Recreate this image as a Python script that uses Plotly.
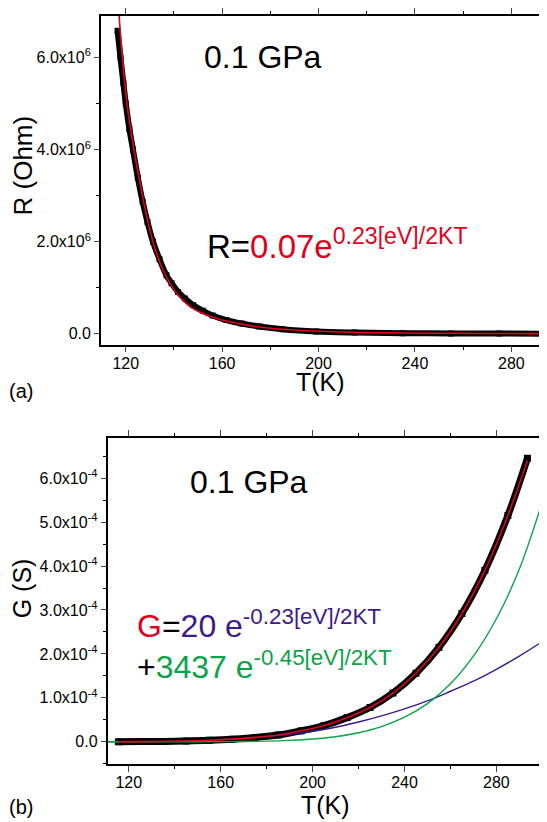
import plotly.graph_objects as go

# ---------------- data ----------------
# Panel (a): resistance, R in units of 1e6 Ohm
T_R = [116.6, 117.8, 119.0, 120.0, 121.5, 123.0, 125.0, 127.0, 129.0, 131.3, 134.0,
       136.9, 139.0, 141.7, 144.5, 148.0, 152.0, 156.0, 161.7, 168.0, 175.5, 185.0,
       199.0, 215.0, 235.0, 255.0, 275.0, 293.5]
R_data = [6.58, 6.0, 5.45, 5.0, 4.45, 4.0, 3.39, 2.87, 2.43, 2.0, 1.62,
          1.27, 1.10, 0.91, 0.77, 0.62, 0.50, 0.40, 0.30, 0.225, 0.16, 0.10,
          0.05, 0.028, 0.015, 0.009, 0.006, 0.004]

T_Rfit = [116.5, 117.2, 118.6, 120.5, 123.4, 126.0, 128.5, 131.0, 134.0, 137.0, 140.0,
          143.0, 147.0, 152.0, 158.0, 165.0, 175.0, 185.0, 200.0, 220.0, 245.0, 270.0, 292.7]
R_fit = [7.4, 6.92, 6.0, 5.0, 4.0, 3.25, 2.6, 2.05, 1.57, 1.22, 0.96,
         0.77, 0.58, 0.44, 0.33, 0.24, 0.15, 0.10, 0.055, 0.027, 0.014, 0.008, 0.005]

# Panel (b): conductance, G in units of 1e-4 S
T_G = [115.5, 125, 135, 145, 155, 165, 175, 185, 195, 205, 215, 225, 235, 245,
       255, 265, 275, 285, 293.5]
G_data = [0.002, 0.004, 0.009, 0.018, 0.034, 0.06, 0.10, 0.155, 0.25, 0.37, 0.55,
          0.78, 1.11, 1.56, 2.15, 2.92, 3.90, 5.15, 6.45]
G_fit = [0.002, 0.004, 0.009, 0.018, 0.034, 0.06, 0.10, 0.155, 0.25, 0.37, 0.55,
         0.78, 1.11, 1.56, 2.15, 2.92, 3.90, 5.15, 6.40]

T_comp = [110.8, 120, 130, 140, 150, 160, 170, 180, 190, 200, 210, 220, 230, 240,
          250, 260, 270, 280, 290, 301.2]
G_comp1 = [0.001, 0.003, 0.007, 0.015, 0.027, 0.047, 0.078, 0.12, 0.17, 0.24, 0.33,
           0.45, 0.59, 0.75, 0.93, 1.15, 1.38, 1.65, 1.95, 2.32]
G_comp2 = [0.0, 0.0, 0.0001, 0.0003, 0.001, 0.003, 0.007, 0.015, 0.032, 0.062, 0.115,
           0.205, 0.345, 0.56, 0.87, 1.32, 1.95, 2.80, 3.93, 5.66]

x_ticks = [120, 160, 200, 240, 280]
R_ticks = [0, 2, 4, 6]
R_ticktext = ["0.0", "2.0x10<sup>6</sup>", "4.0x10<sup>6</sup>", "6.0x10<sup>6</sup>"]
G_ticks = [0, 1, 2, 3, 4, 5, 6]
G_ticktext = ["0.0"] + ["%d.0x10<sup>-4</sup>" % v for v in G_ticks[1:]]

# ---------------- style ----------------
# the page body has an 8 px margin, so the figure is drawn 8 px smaller and
# all target pixel positions are shifted by 8 px
OFF = 8
W, H = 547 - OFF, 822 - OFF
RED = "#E2001A"
PURPLE = "#3B1A8C"
GREEN = "#0AA34A"
FONT = "Liberation Sans, Arial, sans-serif"


def px(x):
    return min(1.0, max(0.0, (x - OFF) / W))


def py(y):
    return min(1.0, max(0.0, 1 - (y - OFF) / H))


fig = go.Figure()

# panel a
fig.add_trace(go.Scatter(x=T_R, y=R_data, mode="lines+markers", xaxis="x", yaxis="y",
                         line=dict(color="black", width=6, shape="spline"),
                         marker=dict(symbol="square", size=6, color="black"),
                         showlegend=False))
fig.add_trace(go.Scatter(x=T_Rfit, y=R_fit, mode="lines", xaxis="x", yaxis="y",
                         line=dict(color=RED, width=1.6, shape="spline"),
                         showlegend=False))

# panel b
fig.add_trace(go.Scatter(x=T_G, y=G_data, mode="lines+markers", xaxis="x2", yaxis="y2",
                         line=dict(color="black", width=7, shape="spline"),
                         marker=dict(symbol="square", size=7, color="black"),
                         showlegend=False))
fig.add_trace(go.Scatter(x=T_comp, y=G_comp1, mode="lines", xaxis="x2", yaxis="y2",
                         line=dict(color=PURPLE, width=1.4, shape="spline"),
                         showlegend=False))
fig.add_trace(go.Scatter(x=T_comp, y=G_comp2, mode="lines", xaxis="x2", yaxis="y2",
                         line=dict(color=GREEN, width=1.4, shape="spline"),
                         showlegend=False))
fig.add_trace(go.Scatter(x=T_G, y=G_fit, mode="lines", xaxis="x2", yaxis="y2",
                         line=dict(color=RED, width=1.6, shape="spline"),
                         showlegend=False))

common_x = dict(tickvals=x_ticks, ticks="outside", ticklen=6, tickwidth=1.3,
                showline=True, linewidth=1.5, linecolor="black", mirror="ticks",
                showgrid=False, zeroline=False, ticklabelstandoff=-3,
                tickfont=dict(family=FONT, size=16, color="black"),
                minor=dict(dtick=20, tick0=0, ticks="outside", ticklen=3.5, tickwidth=1.2,
                           tickcolor="black"))
common_y = dict(ticks="outside", ticklen=5, tickwidth=1.3,
                showline=True, linewidth=1.5, linecolor="black", mirror=True,
                showgrid=False, zeroline=False,
                tickfont=dict(family=FONT, size=16, color="black"))

fig.update_layout(
    width=W, height=H, margin=dict(l=0, r=0, t=0, b=0),
    paper_bgcolor="white", plot_bgcolor="white",
    font=dict(family=FONT, color="black"),
    xaxis=dict(domain=[px(101), px(546)], anchor="y", range=[109.65, 293.96], **common_x),
    yaxis=dict(domain=[py(340), py(8)], anchor="x", range=[-0.2366, 6.903],
               tickvals=R_ticks, ticktext=R_ticktext,
               minor=dict(dtick=1, tick0=0, ticks="outside", ticklen=3, tickwidth=1.2,
                          tickcolor="black"),
               **common_y),
    xaxis2=dict(domain=[px(107.7), px(546)], anchor="y2", range=[110.75, 301.16], **common_x),
    yaxis2=dict(domain=[py(763.3), py(434.3)], anchor="x2", range=[-0.5025, 6.911],
                tickvals=G_ticks, ticktext=G_ticktext,
                minor=dict(dtick=0.5, tick0=0, ticks="outside", ticklen=3, tickwidth=1.2,
                           tickcolor="black"),
                **common_y),
)

ann = []


def add(text, x, y, size, color="black", xanchor="center", yanchor="middle", angle=0):
    ann.append(dict(text=text, x=px(x), y=py(y), xref="paper", yref="paper",
                    showarrow=False, xanchor=xanchor, yanchor=yanchor, textangle=angle,
                    font=dict(family=FONT, size=size, color=color)))


# axis titles and panel labels
add("R (Ohm)", 23, 159, 26, angle=-90)
add("T(K)", 321, 378, 25)
add("(a)", 21, 386.7, 20)
add("G (S)", 22, 586, 25, angle=-90)
add("T(K)", 326, 805, 25)
add("(b)", 21, 806.7, 20)

# in-plot texts
add("0.1 GPa", 202, 70, 32, xanchor="left", yanchor="bottom")
add("0.1 GPa", 188, 499, 32, xanchor="left", yanchor="bottom")
add("<span style='color:black'>R=</span>0.07e<sup>0.23[eV]/2KT</sup>", 205, 261, 33,
    color=RED, xanchor="left", yanchor="bottom")
add("<span style='color:%s'>G</span><span style='color:black'>=</span>20 e<sup>-0.23[eV]/2KT</sup>" % RED,
    135, 644, 32, color=PURPLE, xanchor="left", yanchor="bottom")
add("<span style='color:black'>+</span>3437 e<sup>-0.45[eV]/2KT</sup>",
    135, 686, 32, color=GREEN, xanchor="left", yanchor="bottom")

fig.update_layout(annotations=ann)

fig.write_html("out.html")
